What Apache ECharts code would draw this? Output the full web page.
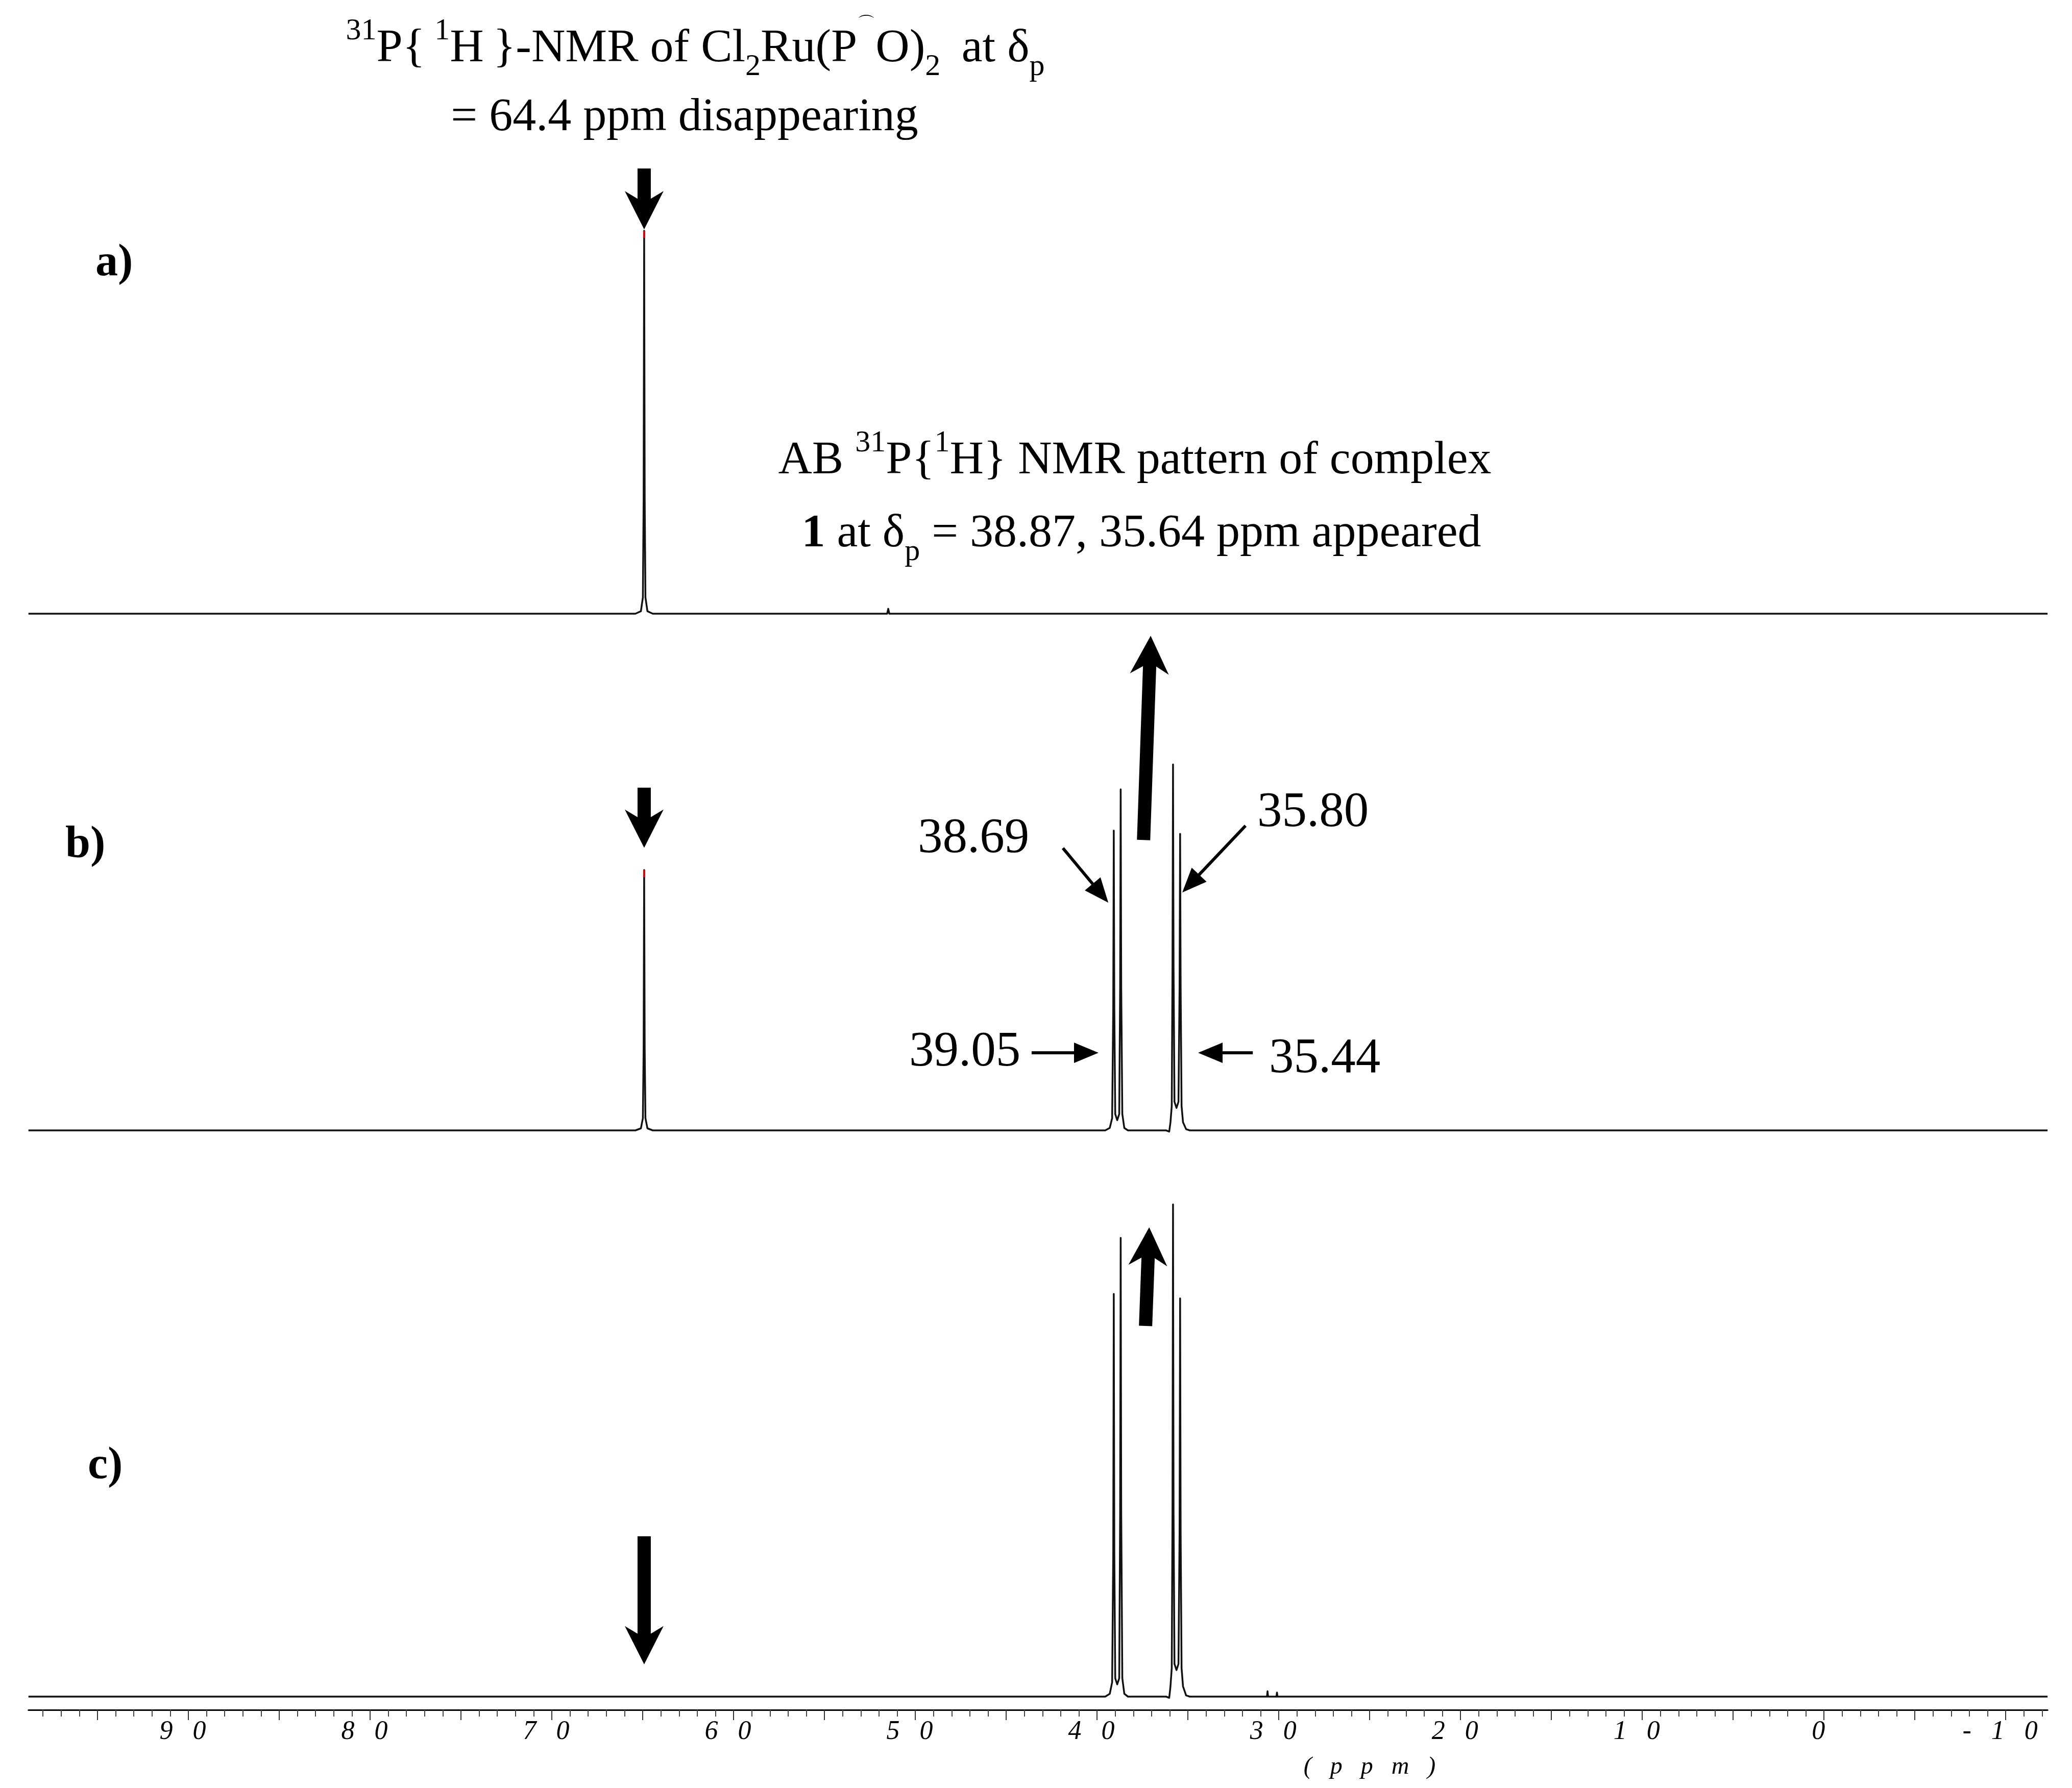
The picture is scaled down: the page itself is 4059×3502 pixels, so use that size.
<!DOCTYPE html>
<html>
<head>
<meta charset="utf-8">
<script src="https://cdn.jsdelivr.net/npm/echarts@6.0.0/dist/echarts.min.js"></script>
<style>
  html, body { margin: 0; padding: 0; background: #ffffff; }
  #chart { width: 4059px; height: 3502px; }
</style>
</head>
<body>
<div id="chart"></div>
<script>
// ---------------- DATA ----------------
const ppmRange = [-12.3, 98.8];                       // visible chemical-shift window (ppm)
const tickLabelValues = [90, 80, 70, 60, 50, 40, 30, 20, 10, 0, -10];
const majorTickValues = [95, 90, 85, 80, 75, 70, 65, 60, 55, 50, 45, 40, 35, 30, 25, 20, 15, 10, 5, 0, -5, -10];

// spectrum a) : starting complex only
const spectrumA = [
  [98.8, 0], [65.4, 0], [65.1, 0.6], [64.99, 4], [64.95, 28], [64.92, 93.75], [64.89, 28], [64.85, 4], [64.74, 0.6], [64.45, 0],
  [51.55, 0], [51.49, 1.2], [51.43, 0],
  [-12.3, 0]
];
// spectrum b) : mixture
const spectrumB = [
  [98.8, 0], [65.4, 0], [65.1, 0.5], [64.99, 3], [64.95, 20], [64.92, 63.75], [64.89, 20], [64.85, 3], [64.74, 0.5], [64.45, 0],
  [39.55, 0], [39.3, 0.6], [39.17, 3], [39.11, 30], [39.08, 73.4], [39.05, 30], [39.0, 4], [38.89, 2.5], [38.78, 4],
  [38.73, 35], [38.70, 83.5], [38.67, 35], [38.61, 4], [38.5, 0.6], [38.3, 0],
  [36.2, 0], [36.03, -0.3], [35.96, 2], [35.89, 6], [35.85, 40], [35.82, 89.6], [35.79, 40], [35.74, 7], [35.63, 5.5],
  [35.52, 7], [35.46, 35], [35.43, 72.6], [35.40, 35], [35.35, 6], [35.27, 2], [35.1, 0.3], [34.9, 0],
  [-12.3, 0]
];
// spectrum c) : product only
const spectrumC = [
  [98.8, 0],
  [39.55, 0], [39.3, 0.7], [39.17, 3.5], [39.11, 35], [39.08, 98.6], [39.05, 35], [39.0, 4.5], [38.89, 3], [38.78, 4.5],
  [38.73, 45], [38.70, 112.3], [38.67, 45], [38.61, 4.5], [38.5, 0.7], [38.3, 0],
  [36.2, 0], [36.03, -0.3], [35.96, 2.5], [35.89, 7], [35.85, 45], [35.82, 120.5], [35.79, 45], [35.74, 8], [35.63, 6.5],
  [35.52, 8], [35.46, 40], [35.43, 97.5], [35.40, 40], [35.35, 7], [35.27, 2.5], [35.1, 0.3], [34.9, 0],
  [30.65, 0], [30.62, 1.3], [30.59, 0], [30.13, 0], [30.10, 1.0], [30.07, 0],
  [-12.3, 0]
];
// red apex marks of the 64.9 ppm signal
const apexMarkA = [[64.92, 93.75]];
const apexMarkB = [[64.92, 63.75]];

// ---------------- LAYOUT / STYLE ----------------
const serif = '"Liberation Serif", "Times New Roman", serif';
const gridLeft = 55.7, gridRight = 47.9;
const grids = [
  { left: gridLeft, right: gridRight, top: 204, height: 1024 },
  { left: gridLeft, right: gridRight, top: 1216, height: 1024 },
  { left: gridLeft, right: gridRight, top: 2325, height: 1024 }
];
const yMin = -3.25, yMax = 124.75;

const minorTickValues = [];
for (let v = 98; v >= -12; v--) { if (v % 5 !== 0) minorTickValues.push(v); }

// arrows: [xTail, yTail, xTip, yTip, shaftWidth, headWidth, headLength, notch]  (data space of each panel)
const arrowsA = [[64.92, 109, 64.92, 94.1, 26, 76, 75, 15]];
const arrowsB = [
  [64.92, 83.9, 64.92, 69.2, 26, 76, 75, 15],
  [37.44, 71.1, 37.05, 121.1, 26, 76, 75, 15],
  [41.88, 69.1, 39.38, 55.75, 6, 40, 48, 0],
  [31.83, 74.6, 35.31, 58.25, 6, 40, 48, 0],
  [43.60, 19, 39.92, 19, 6, 40, 48, 0],
  [31.43, 19, 34.44, 19, 6, 40, 48, 0]
];
const arrowsC = [
  [64.92, 39.25, 64.92, 7.9, 26, 76, 75, 15],
  [37.33, 90.75, 37.13, 114.9, 26, 76, 75, 15]
];

function renderArrow(params, api) {
  const p1 = api.coord([api.value(0), api.value(1)]);
  const p2 = api.coord([api.value(2), api.value(3)]);
  const s = api.value(4), hw = api.value(5), hl = api.value(6), notch = api.value(7);
  let dx = p2[0] - p1[0], dy = p2[1] - p1[1];
  const L = Math.sqrt(dx * dx + dy * dy);
  dx /= L; dy /= L;
  const px = -dy, py = dx;
  const hb = [p2[0] - dx * hl, p2[1] - dy * hl];
  const nb = [p2[0] - dx * (hl - notch), p2[1] - dy * (hl - notch)];
  const pts = [
    [p1[0] + px * s / 2, p1[1] + py * s / 2],
    [nb[0] + px * s / 2, nb[1] + py * s / 2],
    [hb[0] + px * hw / 2, hb[1] + py * hw / 2],
    p2,
    [hb[0] - px * hw / 2, hb[1] - py * hw / 2],
    [nb[0] - px * s / 2, nb[1] - py * s / 2],
    [p1[0] - px * s / 2, p1[1] - py * s / 2]
  ];
  return { type: 'polygon', shape: { points: pts }, style: { fill: '#000', stroke: null } };
}

const GAP = '\u2002\u2005';
function spaced(v) { return String(v).split('').join(GAP); }

const baseX = {
  type: 'value', min: ppmRange[0], max: ppmRange[1], inverse: true,
  splitLine: { show: false }
};

const xAxes = [
  Object.assign({}, baseX, { gridIndex: 0, show: false }),
  Object.assign({}, baseX, { gridIndex: 1, show: false }),
  Object.assign({}, baseX, {
    gridIndex: 2, position: 'bottom',
    axisLine: { show: true, onZero: false, lineStyle: { color: '#000', width: 3 } },
    axisTick: { show: true, customValues: majorTickValues, length: 20, lineStyle: { color: '#333', width: 2 } },
    axisLabel: {
      show: true, customValues: tickLabelValues, formatter: spaced, margin: 17,
      fontFamily: serif, fontStyle: 'italic', fontSize: 52, color: '#000', padding: [0, 22, 0, 0]
    }
  }),
  Object.assign({}, baseX, {
    gridIndex: 2, position: 'bottom', offset: 0,
    axisLine: { show: false, onZero: false },
    axisTick: { show: true, customValues: minorTickValues, length: 13, lineStyle: { color: '#444', width: 2 } },
    axisLabel: { show: false }
  })
];

const yAxes = [0, 1, 2].map(i => ({ type: 'value', gridIndex: i, min: yMin, max: yMax, show: false, splitLine: { show: false } }));

const lineStyle = { color: '#111', width: 3.5, join: 'round' };
function specSeries(data, idx) {
  return { type: 'line', xAxisIndex: idx, yAxisIndex: idx, data: data, showSymbol: false, symbol: 'none',
           lineStyle: lineStyle, animation: false, silent: true, clip: false };
}
function markSeries(data, idx) {
  return { type: 'scatter', xAxisIndex: idx, yAxisIndex: idx, data: data, symbol: 'rect', symbolSize: [4, 14],
           symbolOffset: [0, 7], itemStyle: { color: '#ff0000' }, animation: false, silent: true, z: 5 };
}
function arrowSeries(data, idx) {
  return { type: 'custom', xAxisIndex: idx, yAxisIndex: idx, data: data, renderItem: renderArrow,
           animation: false, silent: true, clip: false, z: 6 };
}

const richStyles = {
  sup: { fontSize: 60, lineHeight: 42, verticalAlign: 'top', fontFamily: serif, color: '#000' },
  sub: { fontSize: 60, lineHeight: 66, verticalAlign: 'bottom', fontFamily: serif, color: '#000' },
  arc: { fontSize: 36, lineHeight: 44, verticalAlign: 'top', fontFamily: '"DejaVu Sans", sans-serif', color: '#000' },
  b: { fontSize: 92, lineHeight: 130, fontWeight: 'bold', fontFamily: serif, color: '#000' }
};
function richText(x, y, text) {
  return { type: 'text', x: x, y: y, silent: true,
    style: { text: text, fontFamily: serif, fontSize: 92, lineHeight: 130, fill: '#000',
             align: 'center', verticalAlign: 'top', rich: richStyles } };
}
function plainText(x, y, text, size, opts) {
  return { type: 'text', x: x, y: y, silent: true,
    style: Object.assign({ text: text, fontFamily: serif, fontSize: size, fill: '#000',
             align: 'center', verticalAlign: 'middle' }, opts || {}) };
}

const T = '\u2009';
const graphics = [
  richText(1362, 31, '{sup|31}P{' + T + '{sup|1}H' + T + '}-NMR of Cl{sub|2}Ru(P{arc|\u2312}O){sub|2}' + T + ' at \u03b4{sub|p}'),
  richText(1341, 166, '= 64.4 ppm disappearing'),
  richText(2223, 838, 'AB {sup|31}P{{sup|1}H} NMR pattern of complex'),
  richText(2236, 981, '{b|1} at \u03b4{sub|p} = 38.87, 35.64 ppm appeared'),
  plainText(187, 516, 'a)', 88, { fontWeight: 'bold', align: 'left' }),
  plainText(128, 1656, 'b)', 88, { fontWeight: 'bold', align: 'left' }),
  plainText(172, 2872, 'c)', 88, { fontWeight: 'bold', align: 'left' }),
  plainText(1907, 1644, '38.69', 97),
  plainText(2572, 1593, '35.80', 97),
  plainText(1890, 2062, '39.05', 97),
  plainText(2595, 2075, '35.44', 97),
  plainText(2683, 3461, '(' + GAP + 'p' + GAP + 'p' + GAP + 'm' + GAP + ')', 48, { fontStyle: 'italic' })
];

const chart = echarts.init(document.getElementById('chart'), null, { width: 4059, height: 3502, renderer: 'canvas' });
chart.setOption({
  backgroundColor: '#ffffff',
  animation: false,
  grid: grids,
  xAxis: xAxes,
  yAxis: yAxes,
  series: [
    specSeries(spectrumA, 0), specSeries(spectrumB, 1), specSeries(spectrumC, 2),
    markSeries(apexMarkA, 0), markSeries(apexMarkB, 1),
    arrowSeries(arrowsA, 0), arrowSeries(arrowsB, 1), arrowSeries(arrowsC, 2)
  ],
  graphic: graphics
});
</script>
</body>
</html>
